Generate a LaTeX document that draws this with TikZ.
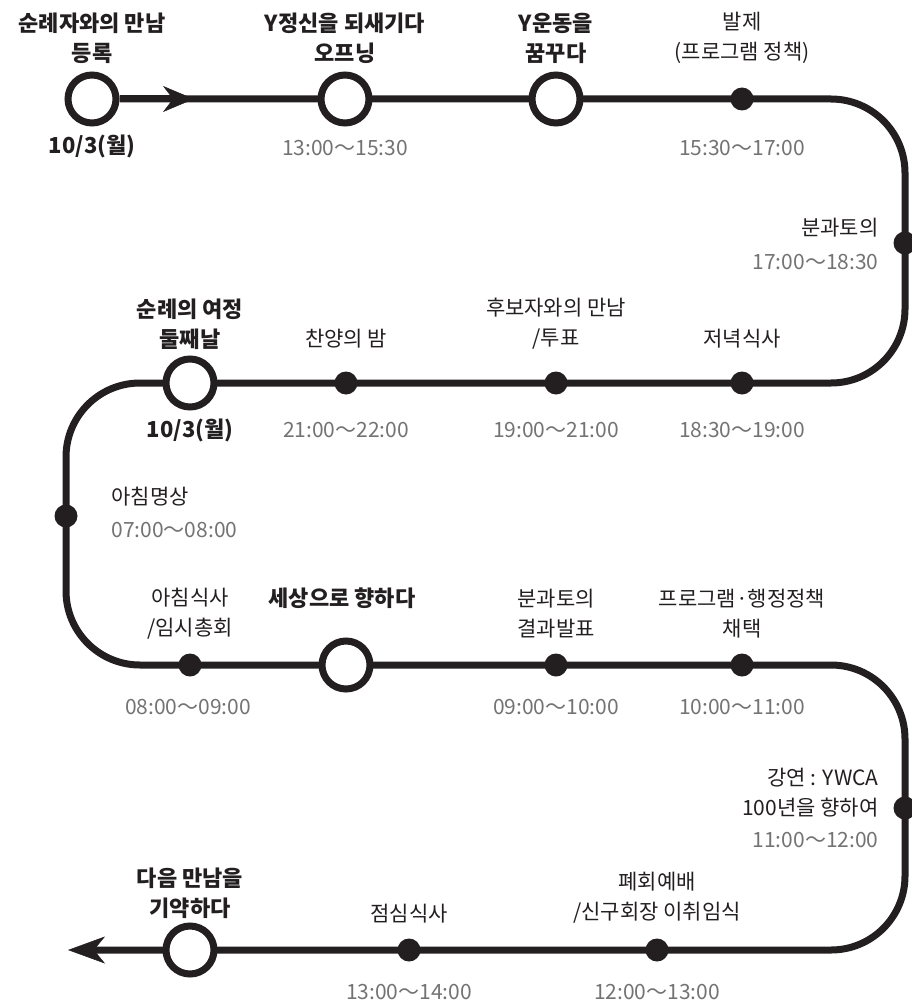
\documentclass[tikz,border=0pt]{standalone}
\usepackage{fontspec}
\setmainfont{Noto Sans CJK KR}
\usetikzlibrary{positioning}
\usetikzlibrary{arrows.meta}
\usetikzlibrary{backgrounds}
\definecolor{ink}{RGB}{35,31,32}
\definecolor{grey}{RGB}{115,115,115}

\begin{document}
\begin{tikzpicture}[x=1pt, y=-1pt,
    track/.style={draw=ink, line width=7pt, rounded corners=74pt},
    stop/.style={circle, draw=ink, line width=7pt, fill=white, minimum size=48pt, inner sep=0pt},
    halt/.style={circle, fill=ink, minimum size=23pt, inner sep=0pt},
    headline/.style={font=\fontsize{22}{30}\selectfont\bfseries, text=ink, align=center},
    event/.style={font=\fontsize{21}{30}\selectfont, text=ink, align=center},
    hour/.style={font=\fontsize{21}{24}\selectfont, text=grey}]
\useasboundingbox (0,0) rectangle (912,1006);

% --- stations ---
\node[stop] (reg) at (92,99) {};
\node[stop] (opening) at (345,99) {};
\node[stop] (dream) at (556,99) {};
\node[stop] (day2) at (190,383) {};
\node[stop] (world) at (346,665) {};
\node[stop] (promise) at (190,950) {};
\foreach \name/\x/\y in {talk/742/99, group/905/243, dinner/742/383, vote/556/383,
    praise/346/383, medit/66/516, breakfast/190/665, result/556/665, adopt/742/665,
    lecture/905/808, closing/657/950, lunch/409/950} {
    \node[halt] (\name) at (\x,\y) {};
}

% --- track ---
\coordinate (c1) at (905,99);
\coordinate (c2) at (905,383);
\coordinate (c3) at (66,383);
\coordinate (c4) at (66,665);
\coordinate (c5) at (905,665);
\coordinate (c6) at (905,950);
\coordinate (fin) at (68,950);
\coordinate (go) at (194,99);
\begin{pgfonlayer}{background}
    \draw[track, -{Stealth[length=37pt, width=27pt, inset=11pt, line width=0.5pt]}]
        (reg) -- (c1) -- (c2) -- (c3) -- (c4) -- (c5) -- (c6) -- (fin);
\end{pgfonlayer}
\draw[draw=ink, line width=7pt, -{Stealth[length=31pt, width=26pt, inset=10pt, line width=0.5pt]}] (reg) -- (go);

% --- row 1 ---
\node[headline] (regtxt) at (92,38) {순례자와의 만남\\등록};
\node[headline] (regday) at (92,146) {10/3(월)};
\node[headline] (opentxt) at (345,38) {Y정신을 되새기다\\오프닝};
\node[headline] (dreamtxt) at (556,38) {Y운동을\\꿈꾸다};
\node[event] (talktxt) at (742,38) {발제\\(프로그램 정책)};
\node[event, anchor=east] (grouptxt) at (882,228) {분과토의};
\node[hour, anchor=east] (grouphr) at (882,262) {17:00～18:30};

% --- row 2 ---
\node[headline] (day2txt) at (190,324) {순례의 여정\\둘째날};
\node[headline] (day2day) at (190,430) {10/3(월)};
\node[event] (praisetxt) at (346,339) {찬양의 밤};
\node[event] (votetxt) at (556,324) {후보자와의 만남\\/투표};
\node[event] (dinnertxt) at (742,339) {저녁식사};
\node[event, anchor=west] (medittxt) at (108,497) {아침명상};
\node[hour, anchor=west] (medithr) at (108,530) {07:00～08:00};

% --- row 3 ---
\node[event] (bfasttxt) at (190,614) {아침식사\\/임시총회};
\node[headline] (worldtxt) at (342,598) {세상으로 향하다};
\node[event] (resulttxt) at (556,614) {분과토의\\결과발표};
\node[event] (adopttxt) at (742,614) {프로그램·행정정책\\채택};
\node[event, anchor=east, align=right] (lecttxt) at (882,793) {강연 : YWCA\\100년을 향하여};
\node[hour, anchor=east] (lecthr) at (882,840) {11:00～12:00};

% --- row 4 ---
\node[headline] (promtxt) at (190,893) {다음 만남을\\기약하다};
\node[event] (lunchtxt) at (409,914) {점심식사};
\node[event] (closetxt) at (657,898) {폐회예배\\/신구회장 이취임식};

% --- hours under the track ---
\foreach \name/\x/\y/\t in {openhr/345/148/{13:00～15:30}, talkhr/742/148/{15:30～17:00},
    praisehr/346/430/{21:00～22:00}, votehr/556/430/{19:00～21:00}, dinnerhr/742/430/{18:30～19:00},
    bfasthr/188/707/{08:00～09:00}, resulthr/556/707/{09:00～10:00}, adopthr/742/707/{10:00～11:00},
    lunchhr/409/992/{13:00～14:00}, closehr/657/992/{12:00～13:00}} {
    \node[hour] (\name) at (\x,\y) {\t};
}
\end{tikzpicture}
\end{document}
